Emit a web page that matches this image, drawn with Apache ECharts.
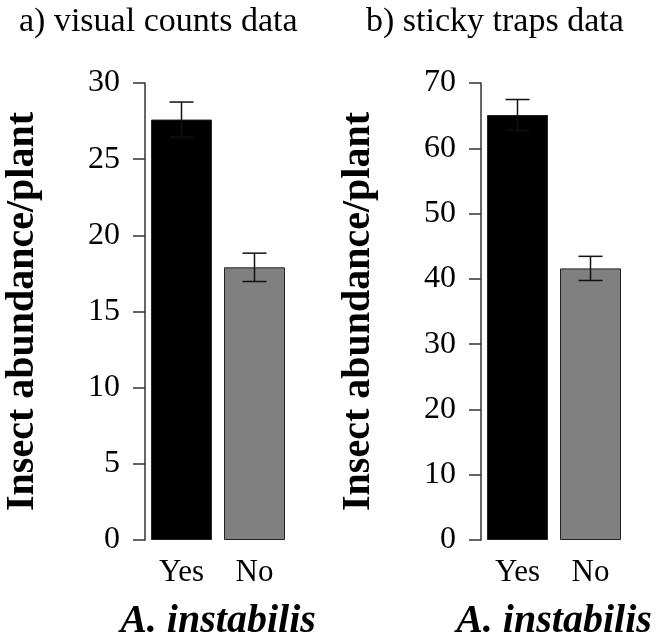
<!DOCTYPE html>
<html>
<head>
<meta charset="utf-8">
<script src="https://cdn.jsdelivr.net/npm/echarts@6/dist/echarts.min.js"></script>
<style>
html,body{margin:0;padding:0;background:#fff;}
#chart{width:657px;height:641px;}
</style>
</head>
<body>
<div id="chart"></div>
<script>
const categories = ['Yes', 'No'];
const visualMeans = [27.6, 17.9];
const visualSE = [1.15, 0.93];
const stickyMeans = [65.1, 41.6];
const stickySE = [2.37, 1.85];
const visualTicks = { min: 0, max: 30, interval: 5 };
const stickyTicks = { min: 0, max: 70, interval: 10 };
const panelTitles = ['a) visual counts data', 'b) sticky traps data'];
const yName = 'Insect abundance/plant';
const xName = 'A. instabilis';

const FONT = '"Liberation Serif", "Times New Roman", serif';
const barColors = ['#000000', '#808080'];

function errData(means, se) {
  return means.map((m, i) => [i, m - se[i], m + se[i]]);
}

function errSeries(means, se, idx) {
  return {
    type: 'custom',
    xAxisIndex: idx, yAxisIndex: idx,
    data: errData(means, se),
    z: 10,
    renderItem: function (params, api) {
      const x = api.value(0);
      const lo = api.coord([x, api.value(1)]);
      const hi = api.coord([x, api.value(2)]);
      const hw = 12;
      const style = { stroke: '#111', lineWidth: 1.5 };
      return {
        type: 'group',
        children: [
          { type: 'line', shape: { x1: hi[0], y1: hi[1], x2: lo[0], y2: lo[1] }, style: style },
          { type: 'line', shape: { x1: hi[0] - hw, y1: hi[1], x2: hi[0] + hw, y2: hi[1] }, style: style },
          { type: 'line', shape: { x1: lo[0] - hw, y1: lo[1], x2: lo[0] + hw, y2: lo[1] }, style: style }
        ]
      };
    }
  };
}

function barSeries(means, idx) {
  return {
    type: 'bar',
    xAxisIndex: idx, yAxisIndex: idx,
    barWidth: 61,
    data: means.map((v, i) => ({
      value: v,
      itemStyle: { color: barColors[i], borderColor: '#222', borderWidth: 1 }
    }))
  };
}

function xAxis(idx) {
  return {
    type: 'category', gridIndex: idx, data: categories,
    axisLine: { show: false }, axisTick: { show: false },
    axisLabel: { fontFamily: FONT, fontSize: 31, color: '#000', margin: 17 },
    name: xName, nameLocation: 'middle', nameGap: 62,
    nameTextStyle: { fontFamily: FONT, fontSize: 40, fontWeight: 'bold', fontStyle: 'italic', color: '#000' }
  };
}

function yAxis(idx, t) {
  return {
    type: 'value', gridIndex: idx, min: t.min, max: t.max, interval: t.interval,
    splitLine: { show: false },
    axisLine: { show: true, lineStyle: { color: '#333', width: 1.5 } },
    axisTick: { show: true, length: 12, lineStyle: { color: '#333', width: 1.5 } },
    axisLabel: { fontFamily: FONT, fontSize: 32, color: '#000', margin: 25 },
    name: yName, nameLocation: 'middle', nameGap: 102,
    nameTextStyle: { fontFamily: FONT, fontSize: 40, fontWeight: 'bold', color: '#000' }
  };
}

const chart = echarts.init(document.getElementById('chart'), null, { renderer: 'canvas' });
chart.setOption({
  backgroundColor: '#fff',
  animation: false,
  title: [
    { text: panelTitles[0], left: 14, top: 0, textStyle: { fontFamily: FONT, fontSize: 34, fontWeight: 'normal', color: '#000' } },
    { text: panelTitles[1], left: 361, top: 0, textStyle: { fontFamily: FONT, fontSize: 34, fontWeight: 'normal', color: '#000' } }
  ],
  grid: [
    { left: 145, top: 83, width: 146, height: 457, outerBoundsMode: 'none', containLabel: false },
    { left: 481, top: 83, width: 146, height: 457, outerBoundsMode: 'none', containLabel: false }
  ],
  xAxis: [xAxis(0), xAxis(1)],
  yAxis: [yAxis(0, visualTicks), yAxis(1, stickyTicks)],
  series: [
    barSeries(visualMeans, 0),
    errSeries(visualMeans, visualSE, 0),
    barSeries(stickyMeans, 1),
    errSeries(stickyMeans, stickySE, 1)
  ]
});
</script>
</body>
</html>
